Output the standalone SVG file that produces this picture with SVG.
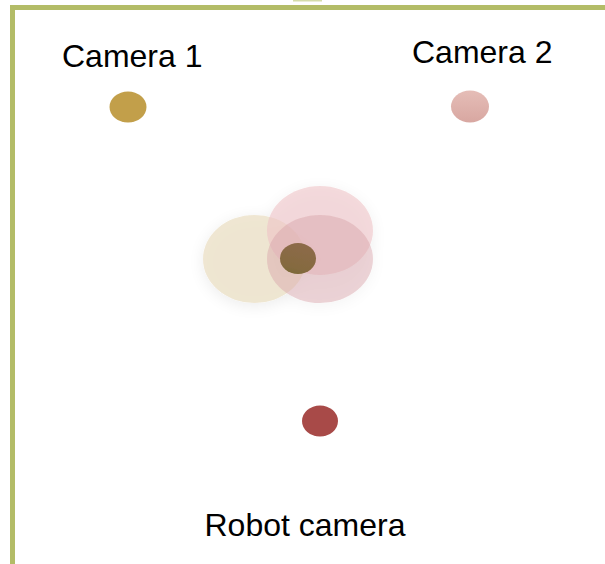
<svg xmlns="http://www.w3.org/2000/svg" width="605" height="564" viewBox="0 0 605 564">
  <defs>
    <style>
      .label { font-family: "Liberation Sans", Arial, sans-serif; font-size: 32px; fill: #000; }
      .frame { fill: none; stroke: #b3bc67; stroke-width: 5; }
    </style>
    <linearGradient id="g2" x1="0" y1="0" x2="0" y2="1">
      <stop offset="0" stop-color="#e5bdb7"/>
      <stop offset="1" stop-color="#d8a7a1"/>
    </linearGradient>
    <linearGradient id="gd" x1="0.3" y1="0" x2="0" y2="1">
      <stop offset="0" stop-color="#8c6a48"/>
      <stop offset="0.7" stop-color="#856a40"/>
      <stop offset="1" stop-color="#776a33"/>
    </linearGradient>
    <filter id="soft" x="-30%" y="-30%" width="160%" height="160%">
      <feGaussianBlur in="SourceAlpha" stdDeviation="8"/>
      <feOffset dx="0" dy="3" result="b"/>
      <feComponentTransfer><feFuncA type="linear" slope="0.1"/></feComponentTransfer>
      <feMerge><feMergeNode/><feMergeNode in="SourceGraphic"/></feMerge>
    </filter>
  </defs>
  <rect x="0" y="0" width="605" height="564" fill="#ffffff"/>
  <g id="frame">
    <rect x="293" y="0" width="29" height="1.5" fill="#d5dcaa"/>
    <path class="frame" d="M12.5 564 V7.5 H605"/>
  </g>
  <g id="camera1">
    <ellipse cx="128" cy="107" rx="18.5" ry="15.5" fill="#c29f4a"/>
    <text class="label" x="62" y="67">Camera 1</text>
  </g>
  <g id="camera2">
    <ellipse cx="470" cy="106.5" rx="19" ry="16" fill="url(#g2)"/>
    <text class="label" x="412" y="63">Camera 2</text>
  </g>
  <g id="estimates" filter="url(#soft)">
    <ellipse cx="254.5" cy="259" rx="51.5" ry="44" fill="#ece1c8" fill-opacity="0.8"/>
    <ellipse cx="320" cy="230.5" rx="53" ry="44.5" fill="#efc3c6" fill-opacity="0.6"/>
    <ellipse cx="320" cy="259" rx="53" ry="44" fill="#d7a1a8" fill-opacity="0.45"/>
    <ellipse cx="298" cy="258.5" rx="18" ry="15.5" fill="url(#gd)"/>
  </g>
  <g id="robot">
    <ellipse cx="320" cy="421" rx="18" ry="15.5" fill="#a84a48"/>
    <text class="label" x="204.5" y="536">Robot camera</text>
  </g>
  <g id="connectors"/>
</svg>
